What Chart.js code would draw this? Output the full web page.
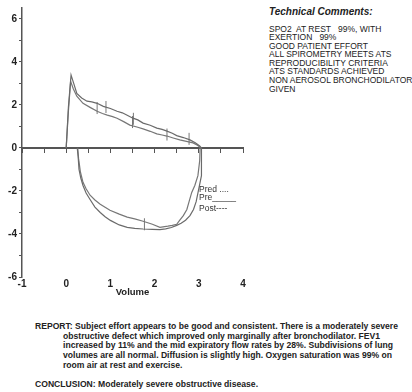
<!DOCTYPE html>
<html>
<head>
<meta charset="utf-8">
<script src="https://cdn.jsdelivr.net/npm/chart.js@4.4.0/dist/chart.umd.min.js"></script>
<style>
  body { margin: 0; background: #fff; width: 412px; height: 392px; position: relative; overflow: hidden;
         font-family: "Liberation Sans", Arial, sans-serif; color: #222; }
  #wrap { position: absolute; left: 0; top: 0; width: 260px; height: 300px; }
  .tc-title { position: absolute; left: 269px; top: 6px; font-size: 10px; font-weight: bold; font-style: italic; }
  .tc { position: absolute; left: 269px; top: 24.5px; font-size: 8.5px; line-height: 8.6px; white-space: pre; }
  .legend { position: absolute; left: 199px; font-size: 8.5px; color: #333; white-space: pre; }
  .rep { position: absolute; font-size: 8.6px; font-weight: bold; white-space: pre; line-height: 9.7px; }
</style>
</head>
<body>
<div id="wrap"><canvas id="loop" width="260" height="300"></canvas></div>

<div class="tc-title">Technical Comments:</div>
<div class="tc">SPO2  AT REST   99%, WITH
EXERTION   99%
GOOD PATIENT EFFORT
ALL SPIROMETRY MEETS ATS
REPRODUCIBILITY CRITERIA
ATS STANDARDS ACHIEVED
NON AEROSOL BRONCHODILATOR
GIVEN</div>

<div class="legend" style="top:184px">Pred ....</div>
<div class="legend" style="top:192px">Pre_____</div>
<div class="legend" style="top:203px">Post----</div>

<div class="rep" style="left:35px;top:322px">REPORT: Subject effort appears to be good and consistent. There is a moderately severe</div>
<div class="rep" style="left:63px;top:331.7px">obstructive defect which improved only marginally after bronchodilator. FEV1
increased by 11% and the mid expiratory flow rates by 28%. Subdivisions of lung
volumes are all normal. Diffusion is slightly high. Oxygen saturation was 99% on
room air at rest and exercise.</div>
<div class="rep" style="left:35px;top:380px">CONCLUSION: Moderately severe obstructive disease.</div>

<script>
// flow-volume loop, volume (L) vs flow (L/s)
const preVolume = [0, 0.05, 0.11, 0.17, 0.24, 0.35, 0.47, 0.58, 0.7, 0.84, 1.0, 1.15, 1.27, 1.38, 1.51, 1.62, 1.74, 1.9, 2.05, 2.17, 2.28, 2.4, 2.5, 2.65, 2.8, 2.92, 3.02, 3.06,
  3.07, 3.05, 2.99, 2.94, 2.88, 2.8, 2.7, 2.6, 2.5, 2.38, 2.25, 2.12, 1.95, 1.74, 1.55, 1.38, 1.2, 1.0, 0.88, 0.77, 0.65, 0.54, 0.45, 0.38, 0.33, 0.29, 0.27, 0.25];
const preFlow = [0, 1.9, 3.38, 3.0, 2.53, 2.32, 2.17, 2.14, 2.07, 1.93, 1.83, 1.7, 1.63, 1.52, 1.38, 1.3, 1.15, 1.05, 0.92, 0.86, 0.78, 0.68, 0.57, 0.48, 0.37, 0.24, 0.09, 0,
  -0.5, -1.29, -2.0, -2.5, -2.86, -3.15, -3.36, -3.5, -3.6, -3.7, -3.76, -3.8, -3.79, -3.77, -3.74, -3.69, -3.58, -3.37, -3.2, -3.0, -2.75, -2.4, -2.1, -1.75, -1.4, -1.0, -0.4, 0];

const postVolume = [0, 0.05, 0.1, 0.16, 0.24, 0.38, 0.55, 0.7, 0.82, 0.93, 1.05, 1.15, 1.3, 1.44, 1.6, 1.74, 1.9, 2.05, 2.17, 2.28, 2.42, 2.57, 2.72, 2.87, 2.97, 3.03,
  3.02, 2.98, 2.91, 2.84, 2.78, 2.73, 2.65, 2.57, 2.5, 2.4, 2.3, 2.12, 1.95, 1.74, 1.55, 1.38, 1.2, 0.99, 0.88, 0.77, 0.65, 0.54, 0.45, 0.38, 0.32, 0.28, 0.26];
const postFlow = [0, 1.7, 3.09, 2.75, 2.4, 2.07, 1.87, 1.7, 1.6, 1.52, 1.45, 1.38, 1.22, 1.06, 0.97, 0.88, 0.77, 0.65, 0.6, 0.55, 0.46, 0.37, 0.3, 0.23, 0.12, 0.03,
  -0.6, -1.29, -1.75, -2.07, -2.5, -2.86, -3.15, -3.36, -3.55, -3.6, -3.64, -3.69, -3.55, -3.41, -3.3, -3.22, -3.08, -2.9, -2.76, -2.62, -2.42, -2.2, -1.9, -1.6, -1.1, -0.5, 0];

// small vertical volume markers on the curves
const markerVolume = [0.7, 0.9, 1.5, 1.52, 2.28, 2.78, 1.77];
const markerFlow = [1.85, 1.9, 1.2, 1.35, 0.62, 0.42, -3.55];

const xTicks = [-1, 0, 1, 2, 3, 4];
const yTicks = [-6, -5, -4, -3, -2, -1, 0, 1, 2, 3, 4, 5, 6];
const yLabels = [-6, -4, -2, 0, 2, 4, 6];

const toPoints = (xs, ys) => xs.map((x, i) => ({ x: x, y: ys[i] }));

const axisColor = '#555';
const tickFont = { family: 'Liberation Sans, Arial, sans-serif', size: 10, weight: 'bold' };

new Chart(document.getElementById('loop'), {
  type: 'scatter',
  data: {
    datasets: [
      {
        label: 'Pre',
        data: toPoints(preVolume, preFlow),
        showLine: true,
        borderColor: '#6a6a6a',
        borderWidth: 1.2,
        pointRadius: 0,
        tension: 0
      },
      {
        label: 'Post',
        data: toPoints(postVolume, postFlow),
        showLine: true,
        borderColor: '#777',
        borderWidth: 1.2,
        pointRadius: 0,
        tension: 0
      },
      {
        label: 'markers',
        data: toPoints(markerVolume, markerFlow),
        pointStyle: 'line',
        rotation: 90,
        pointRadius: 6,
        borderColor: '#777',
        borderWidth: 1
      }
    ]
  },
  options: {
    responsive: false,
    animation: false,
    layout: { padding: { top: 5, right: 17, left: 0, bottom: 0 } },
    plugins: { legend: { display: false }, tooltip: { enabled: false } },
    scales: {
      x: {
        type: 'linear',
        position: 'bottom',
        min: -1, max: 4,
        afterBuildTicks: s => { s.ticks = xTicks.map(v => ({ value: v })); },
        afterFit: s => { s.height = 23; },
        ticks: { color: '#222', font: tickFont, padding: 1, autoSkip: false, maxRotation: 0 },
        grid: { display: false, drawTicks: false },
        border: { display: false },
        title: { display: true, text: 'Volume', color: '#222', font: { family: 'Liberation Sans, Arial, sans-serif', size: 9.5, weight: 'bold' }, padding: { top: 0, bottom: 1.5 } }
      },
      x2: {
        type: 'linear',
        axis: 'x',
        position: { y: 0 },
        min: -1, max: 4,
        afterFit: s => { s.height = 0; },
        ticks: { display: false, stepSize: 0.5 },
        grid: { drawOnChartArea: false, drawTicks: true, tickLength: 4, color: axisColor, lineWidth: 1 },
        border: { display: true, color: axisColor, width: 2 }
      },
      y: {
        type: 'linear',
        min: -6, max: 6.5,
        afterBuildTicks: s => { s.ticks = yTicks.map(v => ({ value: v })); },
        afterFit: s => { s.width = 22; },
        ticks: {
          autoSkip: false,
          color: '#222',
          font: tickFont,
          padding: 2,
          callback: v => (yLabels.includes(v) ? String(v) : '')
        },
        grid: { drawOnChartArea: false, drawTicks: true, tickLength: 3, color: axisColor, lineWidth: 1 },
        border: { display: true, color: axisColor, width: 1.5 }
      }
    }
  }
});
</script>
</body>
</html>
